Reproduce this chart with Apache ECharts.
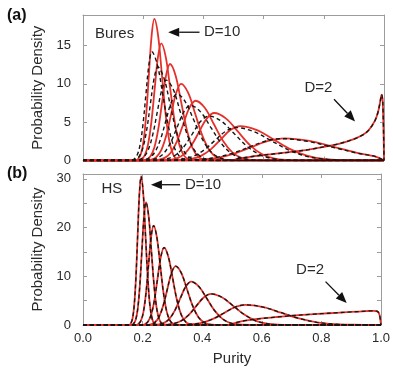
<!DOCTYPE html>
<html>
<head>
<meta charset="utf-8">
<script src="https://cdn.jsdelivr.net/npm/echarts@6.0.0/dist/echarts.min.js"></script>
<style>
  html, body { margin: 0; padding: 0; background: #fff; }
  #chart { width: 393px; height: 369px; }
</style>
</head>
<body>
<div id="chart"></div>
<script>
// Purity distributions, [purity, density] pairs, one array per dimension D.

// Bures measure, exact density (solid red)
const bures2 = [[0,0],[0.5,0],[0.505,0.13],[0.52,0.27],[0.55,0.45],[0.6,0.72],[0.65,0.92],[0.7,1.15],[0.75,1.42],[0.8,1.78],[0.85,2.18],[0.9,2.8],[0.93,3.35],[0.95,4.0],[0.97,5.2],[0.98,6.3],[0.987,7.6],[0.992,8.6],[0.996,7.6],[1,0]];
const bures3 = [[0,0],[0.333,0],[0.34,0.03],[0.395,0.13],[0.45,0.39],[0.505,0.94],[0.56,1.76],[0.615,2.56],[0.67,2.9],[0.7525,2.56],[0.835,1.76],[0.9175,0.94],[0.97,0.55],[1,0]];
const bures4 = [[0,0],[0.2945,0],[0.327,0.05],[0.3595,0.2],[0.392,0.61],[0.4245,1.46],[0.457,2.73],[0.4895,3.97],[0.522,4.5],[0.578,3.97],[0.634,2.73],[0.69,1.46],[0.746,0.61],[0.802,0.2],[0.858,0.05],[0.97,0],[1,0]];
const bures5 = [[0,0],[0.261,0],[0.286,0.07],[0.311,0.27],[0.336,0.84],[0.361,2.02],[0.386,3.76],[0.411,5.47],[0.436,6.2],[0.4755,5.47],[0.515,3.76],[0.5545,2.02],[0.594,0.84],[0.6335,0.27],[0.673,0.07],[0.752,0],[1,0]];
const bures6 = [[0,0],[0.2305,0],[0.251,0.09],[0.2715,0.34],[0.292,1.05],[0.3125,2.54],[0.333,4.73],[0.3535,6.88],[0.374,7.8],[0.4045,6.88],[0.435,4.73],[0.4655,2.54],[0.496,1.05],[0.5265,0.34],[0.557,0.09],[0.618,0],[1,0]];
const bures7 = [[0,0],[0.2105,0],[0.227,0.11],[0.2435,0.44],[0.26,1.35],[0.2765,3.25],[0.293,6.07],[0.3095,8.82],[0.326,10],[0.3495,8.82],[0.373,6.07],[0.3965,3.25],[0.42,1.35],[0.4435,0.44],[0.467,0.11],[0.514,0],[1,0]];
const bures8 = [[0,0],[0.198,0],[0.211,0.14],[0.224,0.55],[0.237,1.7],[0.25,4.1],[0.263,7.65],[0.276,11.11],[0.289,12.6],[0.3075,11.11],[0.326,7.65],[0.3445,4.1],[0.363,1.7],[0.3815,0.55],[0.4,0.14],[0.437,0],[1,0]];
const bures9 = [[0,0],[0.183,0],[0.194,0.17],[0.205,0.67],[0.216,2.07],[0.227,4.97],[0.238,9.29],[0.249,13.49],[0.26,15.3],[0.275,13.49],[0.29,9.29],[0.305,4.97],[0.32,2.07],[0.335,0.67],[0.35,0.17],[0.38,0],[1,0]];
const bures10 = [[0,0],[0.174,0],[0.183,0.2],[0.192,0.81],[0.201,2.5],[0.21,6.01],[0.219,11.23],[0.228,16.32],[0.237,18.5],[0.2495,16.32],[0.262,11.23],[0.2745,6.01],[0.287,2.5],[0.2995,0.81],[0.312,0.2],[0.337,0],[1,0]];

// Bures measure, sampled density (dashed black); D=2 coincides with the exact curve
const buresS3 = [[0,0],[0.333,0],[0.335,0.03],[0.39,0.13],[0.44,0.38],[0.495,0.93],[0.55,1.73],[0.605,2.51],[0.66,2.85],[0.745,2.51],[0.83,1.73],[0.915,0.93],[0.97,0.54],[1,0]];
const buresS4 = [[0,0],[0.263,0],[0.298,0.05],[0.333,0.19],[0.368,0.58],[0.403,1.4],[0.438,2.61],[0.473,3.79],[0.508,4.3],[0.566,3.79],[0.624,2.61],[0.682,1.4],[0.74,0.58],[0.798,0.19],[0.856,0.05],[0.972,0],[1,0]];
const buresS5 = [[0,0],[0.229,0],[0.256,0.06],[0.283,0.26],[0.31,0.78],[0.337,1.89],[0.364,3.52],[0.391,5.12],[0.418,5.8],[0.46,5.12],[0.502,3.52],[0.544,1.89],[0.586,0.78],[0.628,0.26],[0.67,0.06],[0.754,0],[1,0]];
const buresS6 = [[0,0],[0.203,0],[0.225,0.08],[0.247,0.32],[0.269,0.97],[0.291,2.34],[0.313,4.37],[0.335,6.35],[0.357,7.2],[0.3905,6.35],[0.424,4.37],[0.4575,2.34],[0.491,0.97],[0.5245,0.32],[0.558,0.08],[0.625,0],[1,0]];
const buresS7 = [[0,0],[0.186,0],[0.204,0.1],[0.222,0.38],[0.24,1.17],[0.258,2.83],[0.276,5.28],[0.294,7.67],[0.312,8.7],[0.34,7.67],[0.368,5.28],[0.396,2.83],[0.424,1.17],[0.452,0.38],[0.48,0.1],[0.536,0],[1,0]];
const buresS8 = [[0,0],[0.172,0],[0.187,0.12],[0.202,0.46],[0.217,1.42],[0.232,3.41],[0.247,6.37],[0.262,9.26],[0.277,10.5],[0.3,9.26],[0.323,6.37],[0.346,3.41],[0.369,1.42],[0.392,0.46],[0.415,0.12],[0.461,0],[1,0]];
const buresS9 = [[0,0],[0.1615,0],[0.174,0.13],[0.1865,0.54],[0.199,1.65],[0.2115,3.97],[0.224,7.41],[0.2365,10.76],[0.249,12.2],[0.269,10.76],[0.289,7.41],[0.309,3.97],[0.329,1.65],[0.349,0.54],[0.369,0.13],[0.409,0],[1,0]];
const buresS10 = [[0,0],[0.159,0],[0.169,0.16],[0.179,0.62],[0.189,1.92],[0.199,4.62],[0.209,8.62],[0.219,12.52],[0.229,14.2],[0.247,12.52],[0.265,8.62],[0.283,4.62],[0.301,1.92],[0.319,0.62],[0.337,0.16],[0.373,0],[1,0]];

// Hilbert-Schmidt measure (exact and sampled overlap)
const hs2 = [[0,0],[0.5,0],[0.505,0.3],[0.52,0.6],[0.55,0.95],[0.6,1.34],[0.65,1.64],[0.7,1.9],[0.75,2.12],[0.8,2.32],[0.85,2.51],[0.9,2.68],[0.95,2.85],[0.975,2.92],[0.988,2.8],[0.995,2.1],[1,0]];
const hs3 = [[0,0],[0.333,0],[0.335,0.05],[0.37,0.18],[0.405,0.56],[0.44,1.35],[0.475,2.52],[0.51,3.66],[0.545,4.15],[0.605,3.66],[0.665,2.52],[0.725,1.35],[0.785,0.56],[0.845,0.18],[0.905,0.05],[1,0]];
const hs4 = [[0,0],[0.255,0],[0.28,0.07],[0.305,0.28],[0.33,0.86],[0.355,2.08],[0.38,3.88],[0.405,5.64],[0.43,6.4],[0.4675,5.64],[0.505,3.88],[0.5425,2.08],[0.58,0.86],[0.6175,0.28],[0.655,0.07],[0.73,0],[1,0]];
const hs5 = [[0,0],[0.2335,0],[0.252,0.1],[0.2705,0.39],[0.289,1.2],[0.3075,2.89],[0.326,5.4],[0.3445,7.85],[0.363,8.9],[0.3895,7.85],[0.416,5.4],[0.4425,2.89],[0.469,1.2],[0.4955,0.39],[0.522,0.1],[0.575,0],[1,0]];
const hs6 = [[0,0],[0.213,0],[0.227,0.13],[0.241,0.53],[0.255,1.63],[0.269,3.93],[0.283,7.34],[0.297,10.67],[0.311,12.1],[0.33,10.67],[0.349,7.34],[0.368,3.93],[0.387,1.63],[0.406,0.53],[0.425,0.13],[0.463,0],[1,0]];
const hs7 = [[0,0],[0.1968,0],[0.2075,0.17],[0.2183,0.7],[0.229,2.15],[0.2398,5.17],[0.2505,9.65],[0.2613,14.02],[0.272,15.9],[0.2864,14.02],[0.3007,9.65],[0.3151,5.17],[0.3294,2.15],[0.3438,0.7],[0.3581,0.17],[0.3868,0],[1,0]];
const hs8 = [[0,0],[0.1775,0],[0.186,0.22],[0.1945,0.9],[0.203,2.75],[0.2115,6.63],[0.22,12.38],[0.2285,17.99],[0.237,20.4],[0.248,17.99],[0.259,12.38],[0.27,6.63],[0.281,2.75],[0.292,0.9],[0.303,0.22],[0.325,0],[1,0]];
const hs9 = [[0,0],[0.1632,0],[0.1701,0.28],[0.177,1.11],[0.1839,3.4],[0.1908,8.19],[0.1977,15.3],[0.2046,22.23],[0.2115,25.2],[0.2205,22.23],[0.2294,15.3],[0.2384,8.19],[0.2473,3.4],[0.2563,1.11],[0.2652,0.28],[0.2831,0],[1,0]];
const hs10 = [[0,0],[0.1548,0],[0.1605,0.34],[0.1663,1.34],[0.172,4.12],[0.1778,9.91],[0.1835,18.51],[0.1893,26.9],[0.195,30.5],[0.2024,26.9],[0.2097,18.51],[0.2171,9.91],[0.2244,4.12],[0.2318,1.34],[0.2391,0.34],[0.2538,0],[1,0]];

const buresExact = [bures2, bures3, bures4, bures5, bures6, bures7, bures8, bures9, bures10];
const buresSampled = [bures2, buresS3, buresS4, buresS5, buresS6, buresS7, buresS8, buresS9, buresS10];
const hsCurves = [hs2, hs3, hs4, hs5, hs6, hs7, hs8, hs9, hs10];

const RED = '#e4322b';
const DASH = '#161616';
const AXIS = '#9c9c9c';
const TEXT = '#2a2a2a';
const FONT = "'Liberation Sans', Arial, sans-serif";

const chart = echarts.init(document.getElementById('chart'), null, { renderer: 'canvas' });

function xAx(gridIndex, position, showLabel, name) {
  return {
    type: 'value', gridIndex, position, min: 0, max: 1, interval: 0.2,
    name: name || '', nameLocation: 'middle', nameGap: 26,
    nameTextStyle: { fontFamily: FONT, fontSize: 15, color: TEXT },
    axisLine: { show: true, onZero: false, lineStyle: { color: AXIS, width: 1 } },
    axisTick: { show: true, inside: true, length: 4, lineStyle: { color: AXIS } },
    axisLabel: { show: showLabel, margin: 7, fontFamily: FONT, fontSize: 13, color: TEXT,
                 formatter: v => v.toFixed(1) },
    splitLine: { show: false }
  };
}
function yAx(gridIndex, position, max, labelStep, showLabel, name) {
  return {
    type: 'value', gridIndex, position, min: 0, max, interval: 5,
    name: name || '', nameLocation: 'middle', nameGap: 31, nameRotate: 90,
    nameTextStyle: { fontFamily: FONT, fontSize: 15, color: TEXT },
    axisLine: { show: true, onZero: false, lineStyle: { color: AXIS, width: 1 } },
    axisTick: { show: true, inside: true, length: 4, lineStyle: { color: AXIS } },
    axisLabel: { show: showLabel, margin: 12, fontFamily: FONT, fontSize: 13, color: TEXT,
                 formatter: v => (v % labelStep === 0 ? String(v) : '') },
    splitLine: { show: false }
  };
}

const series = [];
buresExact.forEach(d => series.push({
  type: 'line', xAxisIndex: 0, yAxisIndex: 0, data: d, showSymbol: false, smooth: 0.35,
  lineStyle: { color: RED, width: 1.8 }, z: 2
}));
buresSampled.forEach(d => series.push({
  type: 'line', xAxisIndex: 0, yAxisIndex: 0, data: d, showSymbol: false, smooth: 0.35,
  lineStyle: { color: DASH, width: 1.4, type: [4, 3] }, z: 3
}));
hsCurves.forEach(d => series.push({
  type: 'line', xAxisIndex: 2, yAxisIndex: 2, data: d, showSymbol: false, smooth: 0.35,
  lineStyle: { color: RED, width: 1.8 }, z: 2
}));
hsCurves.forEach(d => series.push({
  type: 'line', xAxisIndex: 2, yAxisIndex: 2, data: d, showSymbol: false, smooth: 0.35,
  lineStyle: { color: DASH, width: 1.3, type: [4, 3] }, z: 3
}));

chart.setOption({
  animation: false,
  backgroundColor: '#fff',
  grid: [
    { left: 83, top: 15, width: 301, height: 145.5 },
    { left: 83, top: 174, width: 301, height: 151 }
  ],
  xAxis: [
    xAx(0, 'bottom', false),
    xAx(0, 'top', false),
    xAx(1, 'bottom', true, 'Purity'),
    xAx(1, 'top', false)
  ],
  yAxis: [
    yAx(0, 'left', 19, 5, true, 'Probability Density'),
    yAx(0, 'right', 19, 5, false),
    yAx(1, 'left', 31, 10, true, 'Probability Density'),
    yAx(1, 'right', 31, 10, false)
  ],
  series
});

// in-plot labels and arrows placed at data positions
function px(gridIndex, x, y) {
  return chart.convertToPixel({ gridIndex }, [x, y]);
}
function txt(gridIndex, x, y, text, align) {
  const p = px(gridIndex, x, y);
  return {
    type: 'text', x: p[0], y: p[1], z: 10,
    style: { text, fill: TEXT, font: `15px ${FONT}`, align, verticalAlign: 'middle' }
  };
}
function arrow(gridIndex, from, to) {
  const a = px(gridIndex, from[0], from[1]);
  const b = px(gridIndex, to[0], to[1]);
  const dx = b[0] - a[0], dy = b[1] - a[1];
  const len = Math.hypot(dx, dy);
  const ux = dx / len, uy = dy / len;
  const head = 11, half = 4.5;
  const base = [b[0] - ux * head, b[1] - uy * head];
  return [
    { type: 'line', z: 10, shape: { x1: a[0], y1: a[1], x2: base[0], y2: base[1] },
      style: { stroke: '#111', lineWidth: 1.3 } },
    { type: 'polygon', z: 10,
      shape: { points: [b, [base[0] - uy * half, base[1] + ux * half], [base[0] + uy * half, base[1] - ux * half]] },
      style: { fill: '#111' } }
  ];
}
chart.setOption({
  graphic: [
    txt(0, 0.105, 16.6, 'Bures', 'center'),
    txt(0, 0.402, 16.75, 'D=10', 'left'),
    txt(0, 0.782, 9.5, 'D=2', 'center'),
    txt(1, 0.097, 28.0, 'HS', 'center'),
    txt(1, 0.342, 28.8, 'D=10', 'left'),
    txt(1, 0.762, 11.3, 'D=2', 'center'),
    ...arrow(0, [0.387, 16.75], [0.283, 16.75]),
    ...arrow(0, [0.834, 8.0], [0.904, 5.1]),
    ...arrow(1, [0.326, 28.8], [0.228, 28.8]),
    ...arrow(1, [0.814, 8.9], [0.885, 4.5]),
    { type: 'text', x: 7, y: 16, style: { text: '(a)', fill: '#111', font: `bold 16px ${FONT}`, verticalAlign: 'middle' } },
    { type: 'text', x: 7, y: 174, style: { text: '(b)', fill: '#111', font: `bold 16px ${FONT}`, verticalAlign: 'middle' } }
  ]
});
</script>
</body>
</html>
